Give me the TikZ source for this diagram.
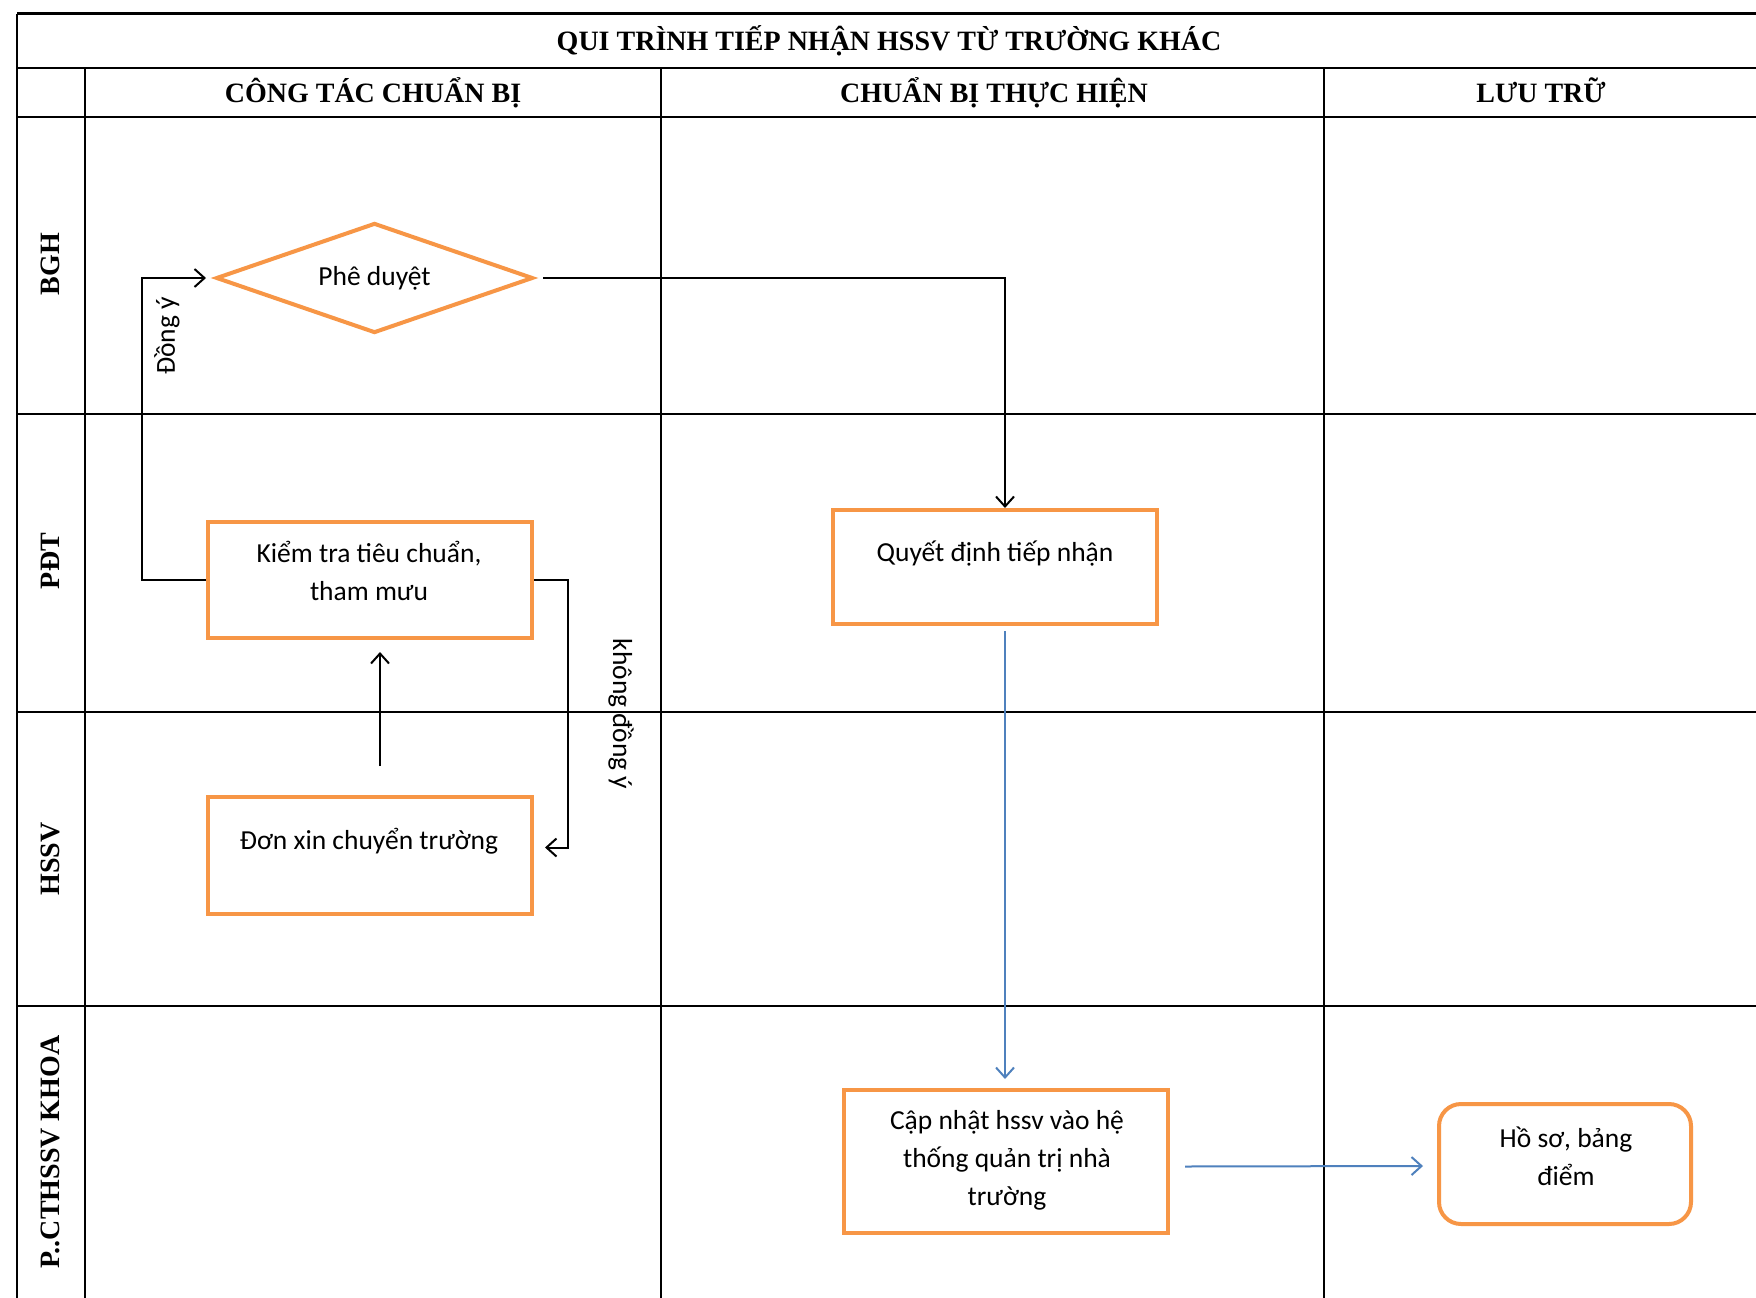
\documentclass[tikz,border=0pt]{standalone}
\usepackage{fontspec}
\setmainfont{Carlito}
\newfontfamily\hdrfont{Liberation Serif}
\usetikzlibrary{shapes.geometric,arrows.meta,calc}
\definecolor{orng}{HTML}{F79646}
\definecolor{blu}{HTML}{4F81BD}
\tikzset{
  gridline/.style={line width=2pt, black},
  hdr/.style={font=\hdrfont\bfseries\fontsize{28}{34}\selectfont, inner sep=0pt, text height=20pt, text depth=6pt},
  lane/.style={font=\hdrfont\bfseries\fontsize{28}{34}\selectfont, inner sep=0pt, rotate=90},
  box/.style={draw=orng, line width=4pt, minimum width=324pt, inner sep=0pt},
  txt/.style={font=\fontsize{27.5}{38}\selectfont, align=center, inner sep=0pt},
  lbl/.style={font=\fontsize{27.5}{32}\selectfont, inner sep=0pt},
  conn/.style={line width=2pt, black},
  bconn/.style={line width=2pt, blu},
  arr/.style={-{Straight Barb[length=10pt,width=18pt]}}
}
\begin{document}
\begin{tikzpicture}[x=1pt,y=-1pt]
\useasboundingbox[fill=white] (0,0) rectangle (1756,1298);
% grid
\draw[gridline, line width=3pt] (17,14) -- (1756,14);
\draw[gridline] (17,68) -- (1756,68);
\draw[gridline] (17,117) -- (1756,117);
\draw[gridline] (17,414) -- (1756,414);
\draw[gridline] (17,712) -- (1756,712);
\draw[gridline] (17,1006) -- (1756,1006);
\draw[gridline] (17,14) -- (17,1298);
\draw[gridline] (85,68) -- (85,1298);
\draw[gridline] (661,68) -- (661,1298);
\draw[gridline] (1324,68) -- (1324,1298);
% headers
\node[hdr] (title) at (889,43.5) {QUI TRÌNH TIẾP NHẬN HSSV TỪ TRƯỜNG KHÁC};
\node[hdr] (h1) at (373,95) {CÔNG TÁC CHUẨN BỊ};
\node[hdr] (h2) at (994,95) {CHUẨN BỊ THỰC HIỆN};
\node[hdr] (h3) at (1541,95) {LƯU TRỮ};
\node[lane] (r1) at (50,264) {BGH};
\node[lane] (r2) at (50,561) {PĐT};
\node[lane] (r3) at (50,859) {HSSV};
\node[lane] (r4) at (50,1152) {P..CTHSSV KHOA};
% shapes
\node[diamond, aspect=2.9, draw=orng, line width=4pt, minimum width=317pt, minimum height=110pt, inner sep=0pt, font=\fontsize{27.5}{38}\selectfont] (pd) at (374.5,278) {Phê duyệt};
\node[box, minimum height=116pt] (kt) at (370,580) {};
\node[txt] (kt-t) at (369,571) {Kiểm tra tiêu chuẩn,\\tham mưu};
\node[box, minimum height=117pt] (dx) at (370,855.5) {};
\node[txt] (dx-t) at (369,841) {Đơn xin chuyển trường};
\node[box, minimum height=114pt] (qd) at (995,567) {};
\node[txt] (qd-t) at (995,554) {Quyết định tiếp nhận};
\node[box, minimum height=143pt] (cn) at (1006,1161.5) {};
\node[txt] (cn-t) at (1007,1160) {Cập nhật hssv vào hệ\\thống quản trị nhà\\trường};
\node[box, minimum width=252pt, minimum height=120pt, rounded corners=22pt] (hs) at (1565,1164) {};
\node[txt] (hs-t) at (1566,1156) {Hồ sơ, bảng\\điểm};
% connectors
\coordinate (c1) at (142,580);
\draw[conn, arr] (kt.west) -- (c1) |- ($(pd.west)+(-8,0)$);
\node[lbl, rotate=90] (l1) at (167,336) {Đồng ý};
\coordinate (c2) at (568,580);
\draw[conn, arr] (kt.east) -- (c2) |- ($(dx.east)+(11,-8)$);
\node[lbl, rotate=-90] (l2) at (621,714) {không đồng ý};
\draw[conn, arr] ($(dx.north)+(10,-29)$) -- ($(kt.south)+(10,12)$);
\draw[conn, arr] ($(pd.east)+(8,0)$) -| ($(qd.north)+(10,0)$);
\draw[bconn, arr] ($(qd.south)+(10,5)$) -- ($(cn.north)+(-1,-9)$);
\draw[bconn, arr] ($(cn.east)+(15,5)$) -- ($(hs.west)+(-14,2)$);
\end{tikzpicture}
\end{document}
